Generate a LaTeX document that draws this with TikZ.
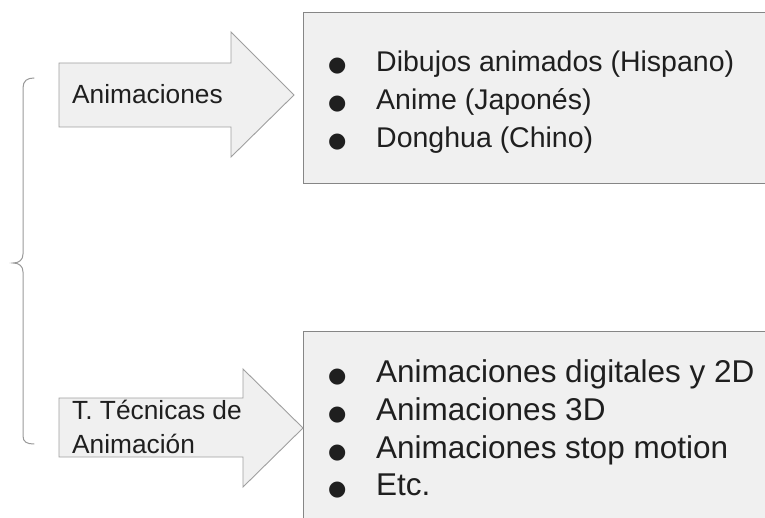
\documentclass[tikz,border=0pt]{standalone}
\usepackage{fontspec}
\setmainfont{Liberation Sans}
\newfontfamily\simbolo{DejaVu Sans}
\newcommand{\bala}{\makebox[48pt][l]{\simbolo\fontsize{21}{21}\selectfont ●}}
\begin{document}
\begin{tikzpicture}[x=1pt,y=-1pt,line join=miter,
  flecha/.style={draw=gray!75,fill=gray!12,line width=0.9pt},
  panel/.style={draw=gray!95,fill=gray!12,line width=0.9pt},
  llave/.style={draw=gray!80,line width=1pt,line cap=round},
  rotulo/.style={anchor=base west,inner sep=0pt,text=black!88,font=\fontsize{26.3}{26.3}\selectfont},
  itemA/.style={anchor=base west,inner sep=0pt,text=black!88,font=\fontsize{28.5}{28.5}\selectfont},
  itemB/.style={anchor=base west,inner sep=0pt,text=black!88,font=\fontsize{31.5}{31.5}\selectfont}]
\useasboundingbox (0,0) rectangle (765,518);
\clip (0,0) rectangle (765,518);
% boxes
\draw[panel] (303,12) rectangle (780,183);
\draw[panel] (303,331) rectangle (780,530);
% arrows
\draw[flecha] (59,63) -- (231,63) -- (231,32) -- (294,95) -- (231,157) -- (231,127) -- (59,127) -- cycle;
\draw[flecha] (59,398) -- (243,398) -- (243,369) -- (303,428) -- (243,487) -- (243,457) -- (59,457) -- cycle;
% brace
\draw[llave] (34,78) .. controls (27,78) and (23,81) .. (23,88) -- (23,254)
  .. controls (23,260) and (19,263) .. (13,263) .. controls (19,263) and (23,266) .. (23,272)
  -- (23,436) .. controls (23,442) and (27,444) .. (34,444);
% labels
\node[rotulo] (anim) at (72,104) {Animaciones};
\node[rotulo] (tec1) at (72,419) {T. Técnicas de};
\node[rotulo] (tec2) at (72,453) {Animación};
% upper list
\node[itemA] (dib) at (328,72) {\bala Dibujos animados (Hispano)};
\node[itemA] (ani) at (328,110) {\bala Anime (Japonés)};
\node[itemA] (don) at (328,148) {\bala Donghua (Chino)};
% lower list
\node[itemB] (dig) at (328,382) {\bala Animaciones digitales y 2D};
\node[itemB] (tres) at (328,420) {\bala Animaciones 3D};
\node[itemB] (stop) at (328,458) {\bala Animaciones stop motion};
\node[itemB] (etc) at (328,495) {\bala Etc.};
\end{tikzpicture}
\end{document}
